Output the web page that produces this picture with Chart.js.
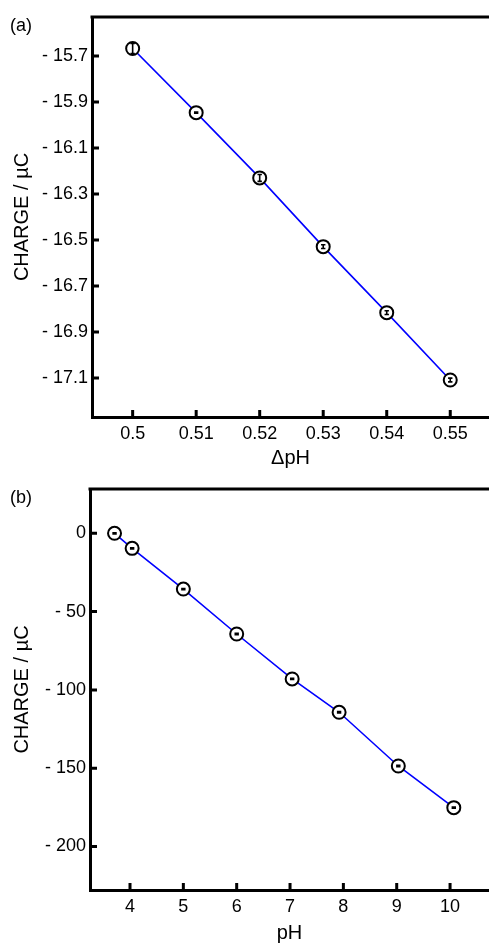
<!DOCTYPE html>
<html>
<head>
<meta charset="utf-8">
<script src="https://cdn.jsdelivr.net/npm/chart.js@4.4.0/dist/chart.umd.min.js"></script>
<style>
  html, body { margin: 0; padding: 0; background: #fff; overflow: hidden; }
  body { width: 489px; height: 945px; position: relative; font-family: "Liberation Sans", Arial, sans-serif; }
  canvas { position: absolute; left: 0; }
  .lbl { position: absolute; font-size: 18px; color: #000; font-family: "Liberation Sans", Arial, sans-serif; line-height: 1; }
</style>
</head>
<body>
<canvas id="ca" width="489" height="470" style="top:0"></canvas>
<canvas id="cb" width="489" height="475" style="top:470px"></canvas>
<div class="lbl" style="left:10px; top:16px;">(a)</div>
<div class="lbl" style="left:10px; top:488px;">(b)</div>
<script>
// ---- Panel (a) data ----
const dpH = [0.50, 0.51, 0.52, 0.53, 0.54, 0.55];
const chargeA = [-15.667, -15.946, -16.23, -16.529, -16.816, -17.109];
const errA = [0.022, 0.002, 0.015, 0.008, 0.008, 0.008];
const xTicksA = [0.5, 0.51, 0.52, 0.53, 0.54, 0.55];
const yTicksA = [-15.7, -15.9, -16.1, -16.3, -16.5, -16.7, -16.9, -17.1];

// ---- Panel (b) data ----
const pH = [3.71, 4.04, 5.0, 6.0, 7.04, 7.92, 9.03, 10.07];
const chargeB = [0, -9.6, -35.6, -64.3, -93.0, -114.3, -148.6, -175.2];
const errB = [0.4, 0.4, 0.4, 0.4, 0.4, 0.4, 0.4, 0.4];
const xTicksB = [4, 5, 6, 7, 8, 9, 10];
const yTicksB = [0, -50, -100, -150, -200];

const FONT = "'Liberation Sans', Arial, sans-serif";

function fmtNeg(v, digits) {
  const s = digits != null ? Math.abs(v).toFixed(digits) : String(Math.abs(v));
  return v < 0 ? '- ' + s : s;
}

const framePlugin = {
  id: 'frame',
  afterDatasetsDraw(chart) {
    const {ctx, scales} = chart;
    ctx.save();
    const ds = chart.data.datasets[0];
    const errs = ds.errors || [];
    ctx.strokeStyle = '#000';
    ctx.lineWidth = 1.6;
    ds.data.forEach((p, i) => {
      const e = errs[i] || 0;
      const x = scales.x.getPixelForValue(p.x);
      const y1 = scales.y.getPixelForValue(p.y + e);
      const y2 = scales.y.getPixelForValue(p.y - e);
      ctx.beginPath();
      ctx.moveTo(x, y1); ctx.lineTo(x, y2);
      ctx.moveTo(x - 2.2, y1); ctx.lineTo(x + 2.2, y1);
      ctx.moveTo(x - 2.2, y2); ctx.lineTo(x + 2.2, y2);
      ctx.stroke();
    });
    ctx.restore();
  },
  afterDraw(chart) {
    const {ctx, chartArea, scales} = chart;
    ctx.save();
    ctx.strokeStyle = '#000';
    ctx.lineWidth = 3;
    ctx.beginPath();
    ctx.moveTo(chartArea.left - 1.5, chartArea.top);
    ctx.lineTo(chartArea.right + 2, chartArea.top);
    ctx.stroke();
    ctx.beginPath();
    scales.x.ticks.forEach(t => {
      const x = scales.x.getPixelForValue(t.value);
      ctx.moveTo(x, chartArea.bottom);
      ctx.lineTo(x, chartArea.bottom - 7);
    });
    scales.y.ticks.forEach(t => {
      const y = scales.y.getPixelForValue(t.value);
      ctx.moveTo(chartArea.left, y);
      ctx.lineTo(chartArea.left + 7, y);
    });
    ctx.stroke();
    ctx.restore();
  }
};

function makeChart(id, xs, ys, errs, xTicks, yTicks, xmin, xmax, ymin, ymax, xTitle, yAxisW, xAxisH, padTop, xFmt, yFmt, xTitlePad) {
  return new Chart(document.getElementById(id), {
    type: 'scatter',
    data: {
      datasets: [{
        data: xs.map((x, i) => ({x: x, y: ys[i]})),
        errors: errs,
        showLine: true,
        borderColor: '#0000ff',
        borderWidth: 1.6,
        pointRadius: 6.5,
        pointHoverRadius: 6.5,
        pointBackgroundColor: '#ffffff',
        pointBorderColor: '#000000',
        pointBorderWidth: 2,
        clip: false
      }]
    },
    options: {
      responsive: false,
      animation: false,
      events: [],
      layout: { autoPadding: false, padding: { top: padTop, right: 0, left: 0, bottom: 0 } },
      plugins: { legend: { display: false }, tooltip: { enabled: false } },
      scales: {
        x: {
          type: 'linear', min: xmin, max: xmax,
          afterBuildTicks: s => { s.ticks = xTicks.map(v => ({value: v})); },
          afterFit: s => { s.height = xAxisH; s.paddingLeft = 0; s.paddingRight = 0; },
          grid: { display: true, drawOnChartArea: false, drawTicks: false },
          border: { display: true, color: '#000', width: 3 },
          ticks: { color: '#000', padding: 6, font: { family: FONT, size: 18 }, maxRotation: 0, autoSkip: false, callback: xFmt },
          title: { display: true, text: xTitle, color: '#000', font: { family: FONT, size: 20 }, padding: { top: 0, bottom: xTitlePad } }
        },
        y: {
          type: 'linear', min: ymin, max: ymax,
          afterBuildTicks: s => { s.ticks = yTicks.map(v => ({value: v})); },
          afterFit: s => { s.width = yAxisW; s.paddingTop = 0; s.paddingBottom = 0; },
          grid: { display: true, drawOnChartArea: false, drawTicks: false },
          border: { display: true, color: '#000', width: 3 },
          ticks: { color: '#000', padding: 4, font: { family: FONT, size: 18 }, autoSkip: false, callback: yFmt },
          title: { display: true, text: 'CHARGE / µC', color: '#000', font: { family: FONT, size: 20 }, padding: { top: 10, bottom: 0 } }
        }
      }
    },
    plugins: [framePlugin]
  });
}

makeChart('ca', dpH, chargeA, errA, xTicksA, yTicksA,
  0.4936, 0.5561, -17.27, -15.53, 'ΔpH', 92, 53, 17,
  v => String(v), v => fmtNeg(v, 1), 0);

makeChart('cb', pH, chargeB, errB, xTicksB, yTicksB,
  3.25, 10.73, -227.8, 28.3, 'pH', 90, 55, 19,
  v => String(v), v => fmtNeg(v), 0);
</script>
</body>
</html>
